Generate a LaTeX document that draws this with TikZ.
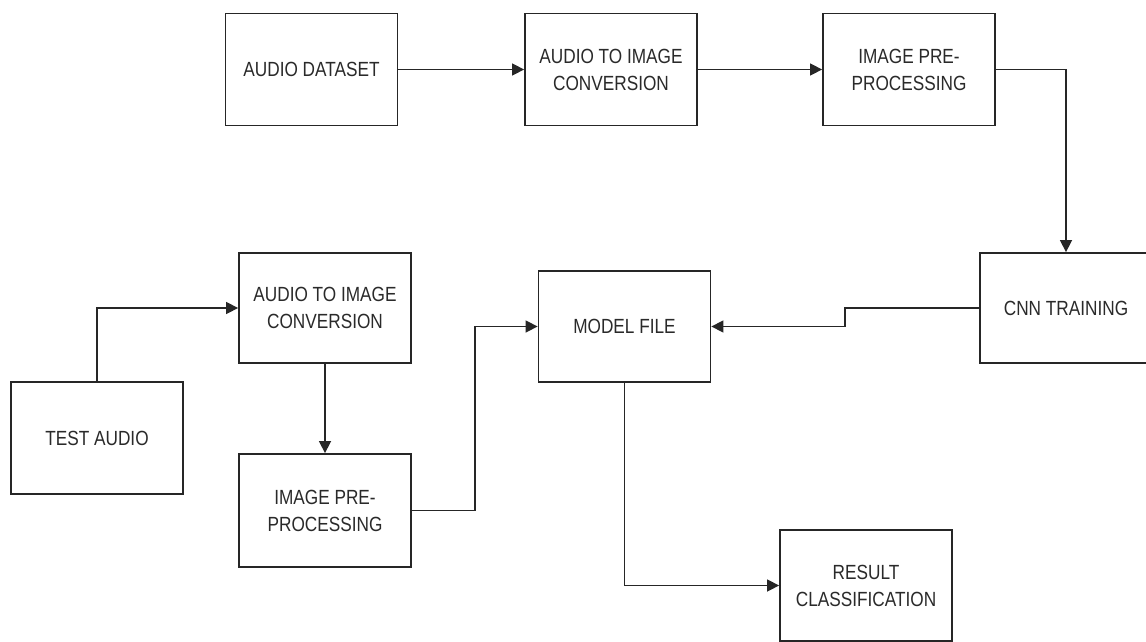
\documentclass[tikz,border=0pt]{standalone}
\usepackage{fontspec}
\setmainfont{Liberation Sans}[FakeStretch=0.84]
\usetikzlibrary{arrows.meta}
\definecolor{edge}{HTML}{262626}
\definecolor{txt}{HTML}{2A2A2A}
\begin{document}
\begin{tikzpicture}[x=1pt,y=-1pt,
  box/.style={draw=edge, line width=1.8pt, fill=white, minimum width=172pt, minimum height=112pt,
    inner sep=2pt, align=center, text=txt, font=\fontsize{20.5}{27}\selectfont},
  conn/.style={draw=edge, line width=1.5pt, -{Triangle[length=12pt,width=12pt]}}]
\fill[white] (0,0) rectangle (1146,642);
\clip (0,0) rectangle (1146,642);
\node[box] (ds) at (311.5,69.5) {AUDIO DATASET};
\node[box] (conv1) at (611,69.5) {AUDIO TO IMAGE\\CONVERSION};
\node[box] (pre1) at (909,69.5) {IMAGE PRE-\\PROCESSING};
\node[box, minimum height=110pt] (cnn) at (1066,308) {CNN TRAINING};
\node[box, minimum height=110pt] (conv2) at (325,308) {AUDIO TO IMAGE\\CONVERSION};
\node[box] (test) at (97,438) {TEST AUDIO};
\node[box, minimum height=113pt] (pre2) at (325,510.5) {IMAGE PRE-\\PROCESSING};
\node[box, minimum height=111pt] (model) at (624.5,326.5) {MODEL FILE};
\node[box, minimum height=111pt] (res) at (866,585.5) {RESULT\\CLASSIFICATION};
\coordinate (k1) at (845,308);
\coordinate (k2) at (475,0);
\draw[conn] (ds.east) -- (conv1.west);
\draw[conn] (conv1.east) -- (pre1.west);
\draw[conn] (pre1.east) -| (cnn.north);
\draw[conn] (cnn.west) -- (k1) |- (model.east);
\draw[conn] (test.north) |- (conv2.west);
\draw[conn] (conv2.south) -- (pre2.north);
\draw[conn] (pre2.east) -- (pre2.east -| k2) |- (model.west);
\draw[conn] (model.south) |- (res.west);
\end{tikzpicture}
\end{document}
